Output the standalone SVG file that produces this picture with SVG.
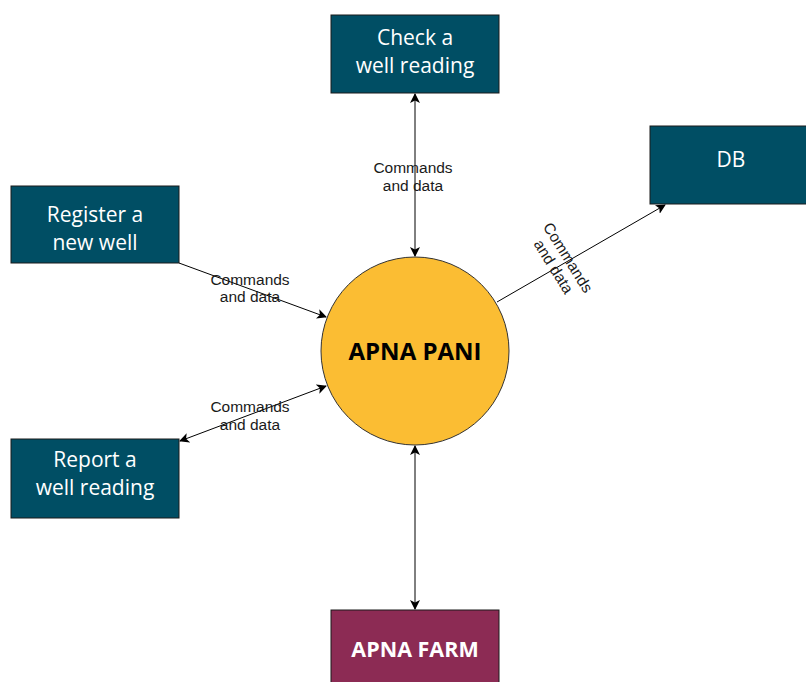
<svg xmlns="http://www.w3.org/2000/svg" width="806" height="682" viewBox="0 0 806 682">
<style>
.box{fill:#004E64;stroke:#1a1a1a;stroke-width:1}
.bt{font-family:"Open Sans","Noto Sans",sans-serif;font-size:21px;fill:#ffffff;text-anchor:middle}
.lbl{font-family:"Liberation Sans",Arial,sans-serif;font-size:15.5px;fill:#1a1a1a;text-anchor:middle}
.ln{stroke:#000;stroke-width:1;fill:none}
</style>
<defs>
<marker id="ah" viewBox="0 0 10 10" refX="9" refY="5" markerWidth="10" markerHeight="10" markerUnits="userSpaceOnUse" orient="auto-start-reverse">
<path d="M0,0 L10,5 L0,10 L2.5,5 z" fill="#000"/>
</marker>
</defs>
<rect width="806" height="682" fill="#ffffff"/>
<g id="connectors">
<line class="ln" x1="415" y1="94" x2="415" y2="256" marker-start="url(#ah)" marker-end="url(#ah)"/>
<line class="ln" x1="179" y1="263" x2="326" y2="317" marker-end="url(#ah)"/>
<line class="ln" x1="180" y1="441" x2="326" y2="386" marker-start="url(#ah)" marker-end="url(#ah)"/>
<line class="ln" x1="497" y1="302" x2="665" y2="205" marker-end="url(#ah)"/>
<line class="ln" x1="415" y1="446" x2="415" y2="609" marker-start="url(#ah)" marker-end="url(#ah)"/>
<text class="lbl" x="413" y="173">Commands</text>
<text class="lbl" x="413" y="191">and data</text>
<text class="lbl" x="250" y="285">Commands</text>
<text class="lbl" x="250" y="302">and data</text>
<text class="lbl" x="250" y="412">Commands</text>
<text class="lbl" x="250" y="430">and data</text>
<g transform="translate(561,262) rotate(58)">
<text class="lbl" x="0" y="-3">Commands</text>
<text class="lbl" x="0" y="14">and data</text>
</g>
</g>
<g id="check">
<rect class="box" x="331" y="15" width="168" height="78"/>
<text class="bt" x="415" y="45">Check a</text>
<text class="bt" x="415" y="73">well reading</text>
</g>
<g id="db">
<rect class="box" x="650" y="126" width="168" height="78"/>
<text class="bt" x="731" y="167">DB</text>
</g>
<g id="register">
<rect class="box" x="11" y="186" width="168" height="77"/>
<text class="bt" x="95" y="222">Register a</text>
<text class="bt" x="95" y="250">new well</text>
</g>
<g id="report">
<rect class="box" x="11" y="439" width="168" height="79"/>
<text class="bt" x="95" y="467">Report a</text>
<text class="bt" x="95" y="495">well reading</text>
</g>
<g id="apnapani">
<circle cx="415" cy="351" r="94" fill="#FBBD33" stroke="#333" stroke-width="1"/>
<text x="415" y="360" font-family="'Open Sans','Noto Sans',sans-serif" font-size="24" font-weight="bold" fill="#000" text-anchor="middle">APNA PANI</text>
</g>
<g id="apnafarm">
<rect x="331" y="610" width="168" height="80" fill="#8C2B54" stroke="#1a1a1a" stroke-width="1"/>
<text x="415" y="657" font-family="'Open Sans','Noto Sans',sans-serif" font-size="21.5" font-weight="bold" fill="#ffffff" text-anchor="middle">APNA FARM</text>
</g>
</svg>
